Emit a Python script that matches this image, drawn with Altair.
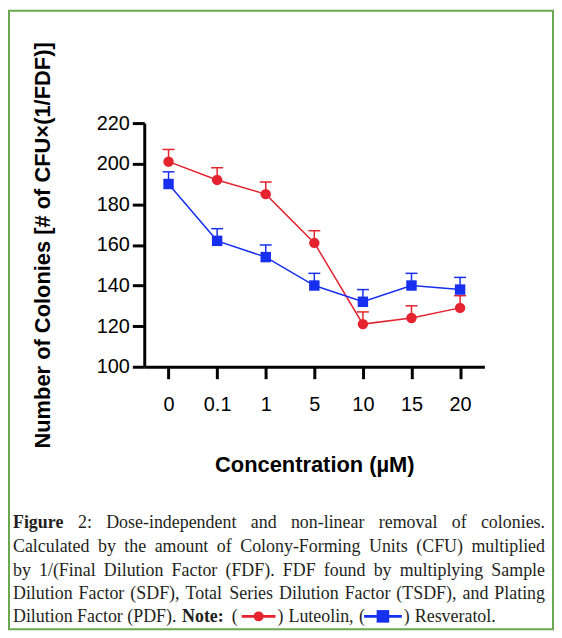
import altair as alt
import pandas as pd

# ---------------- data ----------------
concentrations = ["0", "0.1", "1", "5", "10", "15", "20"]
luteolin = [201, 192, 185, 161, 121, 124, 129]
luteolin_err = [6, 6, 6, 6, 6, 6, 6]
resveratrol = [190, 162, 154, 140, 132, 140, 138]
resveratrol_err = [6, 6, 6, 6, 6, 6, 6]
y_ticks = [100, 120, 140, 160, 180, 200, 220]

x_title = "Concentration (µM)"
y_title = "Number of Colonies [# of CFU×(1/FDF)]"

caption_lines = [
    [("Figure", True), ("2:", False), ("Dose-independent", False), ("and", False),
     ("non-linear", False), ("removal", False), ("of", False), ("colonies.", False)],
    [(w, False) for w in "Calculated by the amount of Colony-Forming Units (CFU) multiplied".split()],
    [(w, False) for w in "by 1/(Final Dilution Factor (FDF). FDF found by multiplying Sample".split()],
    [(w, False) for w in "Dilution Factor (SDF), Total Series Dilution Factor (TSDF), and Plating".split()],
]
last_line = [("Dilution Factor (PDF).", False, 13), ("Note:", True, 183), ("(", False, 233),
             (")", False, 279), ("Luteolin,", False, 290), ("(", False, 361),
             (")", False, 406), ("Resveratol.", False, 417)]

RED = "#E4232E"
BLUE = "#1730F0"
GREEN = "#6AA84F"

# ---------------- layout ----------------
PAD_L, PAD_T = 137, 114
W, H = 342, 245
PAD_R, PAD_B = 70, 265
OX, OY = 8 + PAD_L, 8 + PAD_T  # page position of the view origin


def vx(px):
    return px - OX


def vy(py):
    return py - OY


# Times / Liberation Serif advance widths (per 1000 em)
REG = {" ": 250, "(": 333, ")": 333, ",": 250, "-": 333, ".": 250, "/": 278, ":": 278,
       "A": 722, "B": 667, "C": 667, "D": 722, "E": 611, "F": 556, "G": 722, "H": 722, "I": 333,
       "J": 389, "K": 722, "L": 611, "M": 889, "N": 722, "O": 722, "P": 556, "Q": 722, "R": 667,
       "S": 556, "T": 611, "U": 722, "V": 722, "W": 944, "X": 722, "Y": 722, "Z": 611,
       "a": 444, "b": 500, "c": 444, "d": 500, "e": 444, "f": 333, "g": 500, "h": 500, "i": 278,
       "j": 278, "k": 500, "l": 278, "m": 778, "n": 500, "o": 500, "p": 500, "q": 500, "r": 333,
       "s": 389, "t": 278, "u": 500, "v": 500, "w": 722, "x": 500, "y": 500, "z": 444}
BOLD = dict(REG)
BOLD.update({"F": 611, "i": 278, "g": 500, "u": 556, "r": 444, "e": 444, "N": 722, "o": 500,
             "t": 333, ":": 333})
FS = 18
for d in range(10):
    REG[str(d)] = 500
    BOLD[str(d)] = 500


def tw(s, bold):
    tab = BOLD if bold else REG
    return sum(tab.get(c, 500) for c in s) * FS / 1000.0


LEFT, RIGHT = 13, 548
baselines = [529, 553, 577, 601, 624]
rows = []
for li, words in enumerate(caption_lines):
    widths = [tw(w, b) for w, b in words]
    gap = (RIGHT - LEFT - sum(widths)) / (len(words) - 1)
    x = LEFT
    for (w, b), wd in zip(words, widths):
        rows.append({"cx": vx(x), "cy": vy(baselines[li]), "txt": w, "bold": b})
        x += wd + gap
for w, b, px in last_line:
    rows.append({"cx": vx(px), "cy": vy(baselines[4]), "txt": w, "bold": b})
cap_df = pd.DataFrame(rows)

df = pd.DataFrame({
    "conc": concentrations * 2,
    "value": luteolin + resveratrol,
    "top": [v + e for v, e in zip(luteolin, luteolin_err)] + [v + e for v, e in zip(resveratrol, resveratrol_err)],
    "series": ["Luteolin"] * 7 + ["Resveratol"] * 7,
})

xs = alt.Scale(type="point", domain=concentrations, padding=0.5)
ys = alt.Scale(domain=[100, 220], nice=False, zero=False)

x_axis = alt.Axis(title=x_title, labelAngle=0, labelFont="Liberation Sans", labelFontSize=20,
                  labelColor="black", labelPadding=26, labelBaseline="middle",
                  tickSize=12, tickWidth=3, tickColor="black", domainWidth=3, domainColor="black",
                  titleFont="Liberation Sans", titleFontSize=22, titleFontWeight="bold",
                  titleColor="black", titleY=98, titleBaseline="middle", grid=False)
y_axis = alt.Axis(title=y_title, values=y_ticks, labelFont="Liberation Sans", labelFontSize=20,
                  labelColor="black", labelPadding=3, tickSize=12, tickWidth=3, tickColor="black",
                  domainWidth=3, domainColor="black", titleFont="Liberation Sans", titleFontSize=22,
                  titleFontWeight="bold", titleColor="black", titleX=-102, titleY=H / 2,
                  titleBaseline="middle", titleAngle=270, grid=False)

base = alt.Chart(df)
X = alt.X("conc:N", scale=xs, sort=concentrations, axis=x_axis)
Y = alt.Y("value:Q", scale=ys, axis=y_axis)
YT = alt.Y("top:Q", scale=ys, axis=y_axis)


def series_layers(name, color, shape, size):
    b = base.transform_filter(alt.datum.series == name)
    line = b.mark_line(color=color, strokeWidth=1.5).encode(x=X, y=Y)
    err = b.mark_rule(color=color, strokeWidth=1.5).encode(x=X, y=Y, y2="top:Q")
    cap = b.mark_tick(color=color, size=12, thickness=1.5, opacity=1).encode(x=X, y=YT)
    pts = b.mark_point(shape=shape, filled=True, size=size, color=color, opacity=1).encode(x=X, y=Y)
    return [line, err, cap, pts]


layers = series_layers("Luteolin", RED, "circle", 110) + \
    series_layers("Resveratol", BLUE, "square", 110)

one = alt.Chart(pd.DataFrame({"d": [0]}))

# caption text
cap_x = alt.X("cx:Q", scale=None, axis=None)
cap_y = alt.Y("cy:Q", scale=None, axis=None)
cap_reg = alt.Chart(cap_df).transform_filter("!datum.bold").mark_text(
    font="Liberation Serif", fontSize=FS, align="left", baseline="alphabetic", color="#231F20"
).encode(x=cap_x, y=cap_y, text="txt:N")
cap_bold = alt.Chart(cap_df).transform_filter("datum.bold").mark_text(
    font="Liberation Serif", fontSize=FS, fontWeight="bold", align="left", baseline="alphabetic",
    color="#231F20"
).encode(x=cap_x, y=cap_y, text="txt:N")

# inline legend symbols in caption
sym_y = vy(618)
red_line = one.mark_rule(color=RED, strokeWidth=3).encode(
    x=alt.value(vx(243)), x2=alt.value(vx(277)), y=alt.value(sym_y))
red_dot = one.mark_point(shape="circle", filled=True, size=100, color=RED, opacity=1).encode(
    x=alt.value(vx(260)), y=alt.value(sym_y))
blue_line = one.mark_rule(color=BLUE, strokeWidth=3).encode(
    x=alt.value(vx(366)), x2=alt.value(vx(404)), y=alt.value(sym_y))
blue_sq = one.mark_point(shape="square", filled=True, size=160, color=BLUE, opacity=1).encode(
    x=alt.value(vx(385)), y=alt.value(sym_y))

border = one.mark_rect(fillOpacity=0, stroke=GREEN, strokeWidth=2).encode(
    x=alt.value(vx(9)), x2=alt.value(vx(556)), y=alt.value(vy(9)), y2=alt.value(vy(631)))

chart = alt.layer(*layers, cap_reg, cap_bold, red_line, red_dot, blue_line, blue_sq, border).properties(
    width=W, height=H,
    autosize=alt.AutoSizeParams(type="none"),
    padding={"left": PAD_L, "top": PAD_T, "right": PAD_R, "bottom": PAD_B},
).configure(background="white").configure_view(stroke=None)

chart.save("out.html", embed_options={"renderer": "svg", "actions": False})
